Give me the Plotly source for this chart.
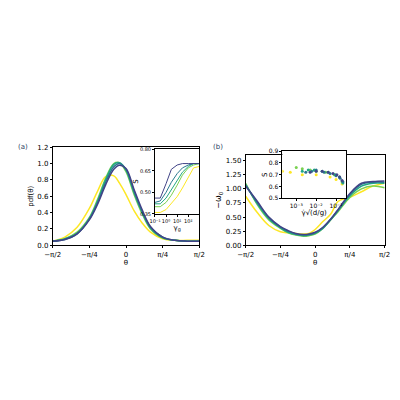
import numpy as np
import plotly.graph_objects as go

colors = ["#fde725", "#7ad151", "#22a884", "#2a788e", "#414487"]
theta_deg = [-90, -75, -60, -45, -35, -25, -15, -8, 0, 10, 20, 30, 45, 60, 75, 90]
pdf_vals = [
    [0.05, 0.10, 0.22, 0.45, 0.66, 0.84, 0.85, 0.76, 0.62, 0.42, 0.27, 0.16, 0.08, 0.06, 0.06, 0.06],
    [0.05, 0.08, 0.16, 0.34, 0.56, 0.82, 1.00, 1.01, 0.90, 0.62, 0.38, 0.20, 0.09, 0.06, 0.05, 0.05],
    [0.05, 0.08, 0.15, 0.33, 0.54, 0.80, 0.99, 1.01, 0.92, 0.64, 0.40, 0.21, 0.09, 0.06, 0.05, 0.05],
    [0.05, 0.07, 0.14, 0.32, 0.52, 0.77, 0.96, 1.00, 0.93, 0.66, 0.41, 0.22, 0.10, 0.06, 0.05, 0.05],
    [0.05, 0.07, 0.14, 0.31, 0.50, 0.74, 0.93, 0.98, 0.94, 0.68, 0.43, 0.23, 0.10, 0.06, 0.05, 0.05],
]
omega_vals = [
    [0.87, 0.58, 0.35, 0.24, 0.22, 0.21, 0.20, 0.21, 0.28, 0.42, 0.55, 0.78, 0.85, 0.95, 1.05, 1.10],
    [1.10, 0.72, 0.45, 0.30, 0.22, 0.18, 0.16, 0.17, 0.20, 0.30, 0.45, 0.60, 0.85, 1.00, 1.05, 1.02],
    [1.08, 0.74, 0.47, 0.31, 0.23, 0.19, 0.17, 0.18, 0.21, 0.30, 0.45, 0.62, 0.88, 1.05, 1.10, 1.10],
    [1.06, 0.76, 0.49, 0.32, 0.25, 0.20, 0.18, 0.19, 0.22, 0.31, 0.46, 0.63, 0.90, 1.08, 1.12, 1.12],
    [1.05, 0.78, 0.50, 0.33, 0.26, 0.21, 0.19, 0.20, 0.23, 0.32, 0.46, 0.64, 0.92, 1.10, 1.13, 1.14],
]
gamma_g = [0.1, 0.3, 1, 3, 10, 30, 100, 300, 1000]
s_a = [
    [0.36, 0.36, 0.38, 0.42, 0.47, 0.53, 0.60, 0.67, 0.68],
    [0.40, 0.40, 0.43, 0.48, 0.55, 0.62, 0.67, 0.69, 0.70],
    [0.42, 0.42, 0.46, 0.52, 0.58, 0.64, 0.68, 0.70, 0.70],
    [0.43, 0.44, 0.50, 0.57, 0.63, 0.67, 0.69, 0.70, 0.70],
    [0.46, 0.46, 0.56, 0.66, 0.69, 0.70, 0.70, 0.70, 0.70],
]
shear_b = [
    [1.5e-4, 2e-4, 5e-4, 2e-3, 1e-2, 5e-2, 1e-1, 2e-1],
    [1e-3, 2e-3, 5e-3, 1e-2, 3e-2, 8e-2, 1.5e-1, 2e-1],
    [2e-3, 4e-3, 8e-3, 2e-2, 4e-2, 9e-2, 1.5e-1, 2.2e-1],
    [3e-3, 6e-3, 1e-2, 2.5e-2, 5e-2, 1e-1, 1.6e-1, 2.2e-1],
    [5e-3, 1e-2, 2e-2, 4e-2, 7e-2, 1.1e-1, 1.5e-1, 2e-1],
]
s_b = [
    [0.70, 0.73, 0.72, 0.70, 0.70, 0.68, 0.66, 0.62],
    [0.76, 0.75, 0.74, 0.73, 0.72, 0.70, 0.68, 0.64],
    [0.73, 0.74, 0.74, 0.73, 0.72, 0.70, 0.68, 0.63],
    [0.72, 0.73, 0.74, 0.72, 0.71, 0.69, 0.67, 0.64],
    [0.72, 0.73, 0.73, 0.72, 0.71, 0.70, 0.68, 0.65],
]
xtick_vals = [-np.pi/2, -np.pi/4, 0, np.pi/4, np.pi/2]
xtick_text = ["−π/2", "−π/4", "0", "π/4", "π/2"]

th = np.deg2rad(theta_deg)
fig = go.Figure()
for i, c in enumerate(colors):
    fig.add_trace(go.Scatter(x=th, y=pdf_vals[i], mode="lines", line=dict(color=c, width=1.5, shape="spline"), xaxis="x", yaxis="y"))
    fig.add_trace(go.Scatter(x=th, y=omega_vals[i], mode="lines", line=dict(color=c, width=1.5, shape="spline"), xaxis="x2", yaxis="y2"))
    fig.add_trace(go.Scatter(x=gamma_g, y=s_a[i], mode="lines", line=dict(color=c, width=1), xaxis="x3", yaxis="y3"))
    fig.add_trace(go.Scatter(x=shear_b[i], y=s_b[i], mode="markers", marker=dict(color=c, size=3), xaxis="x4", yaxis="y4"))

ax = dict(showgrid=False, zeroline=False, showline=True, mirror=True, linecolor="black", linewidth=0.8,
          ticks="outside", ticklen=2, tickfont=dict(size=7), color="black")
fig.update_layout(
    width=400, height=400, showlegend=False, plot_bgcolor="white", paper_bgcolor="white",
    margin=dict(l=0, r=0, t=0, b=0), font=dict(family="DejaVu Sans", size=7),
    xaxis=dict(ax, domain=[0.095, 0.475], range=[-np.pi/2, np.pi/2], tickvals=xtick_vals, ticktext=xtick_text,
               title=dict(text="θ", font=dict(size=7), standoff=2)),
    yaxis=dict(ax, domain=[0.405, 0.655], range=[0, 1.2], dtick=0.2, tickformat=".1f",
               title=dict(text="pdf(θ)", font=dict(size=7), standoff=2)),
    xaxis2=dict(ax, domain=[0.595, 0.955], range=[-np.pi/2, np.pi/2], tickvals=xtick_vals, ticktext=xtick_text,
                title=dict(text="θ", font=dict(size=7), standoff=2), anchor="y2"),
    yaxis2=dict(ax, domain=[0.405, 0.635], range=[0, 1.6], tickvals=[0, 0.25, 0.5, 0.75, 1.0, 1.25, 1.5], tickformat=".2f",
                title=dict(text="−ω<sub>0</sub>", font=dict(size=8), standoff=2), anchor="x2"),
    xaxis3=dict(ax, domain=[0.36, 0.475], type="log", range=[-1, 3], tickvals=[0.1, 1, 10, 100],
                ticktext=["10⁻¹", "10⁰", "10¹", "10²"], tickfont=dict(size=5), tickangle=0, anchor="y3",
                title=dict(text="γ<sub>g</sub>", font=dict(size=7), standoff=0)),
    yaxis3=dict(ax, domain=[0.485, 0.65], range=[0.35, 0.8], tickvals=[0.35, 0.5, 0.65, 0.8], tickformat=".2f",
                tickfont=dict(size=5), anchor="x3", title=dict(text="S", font=dict(size=7), standoff=0)),
    xaxis4=dict(ax, domain=[0.69, 0.855], type="log", range=[-3.7, -0.5], tickvals=[1e-3, 1e-2, 1e-1],
                ticktext=["10⁻³", "10⁻²", "10⁻¹"], tickfont=dict(size=6), tickangle=0, anchor="y4",
                title=dict(text="γ̇√(d/g)", font=dict(size=7), standoff=0)),
    yaxis4=dict(ax, domain=[0.525, 0.645], range=[0.5, 0.9], dtick=0.1, tickformat=".1f",
                tickfont=dict(size=6), anchor="x4", title=dict(text="S", font=dict(size=7), standoff=0)),
    annotations=[
        dict(text="(a)", x=0.0, y=0.655, xref="paper", yref="paper", showarrow=False, xanchor="left", yanchor="middle", font=dict(size=7)),
        dict(text="(b)", x=0.505, y=0.655, xref="paper", yref="paper", showarrow=False, xanchor="left", yanchor="middle", font=dict(size=7)),
    ],
)
fig.write_html("out.html")
